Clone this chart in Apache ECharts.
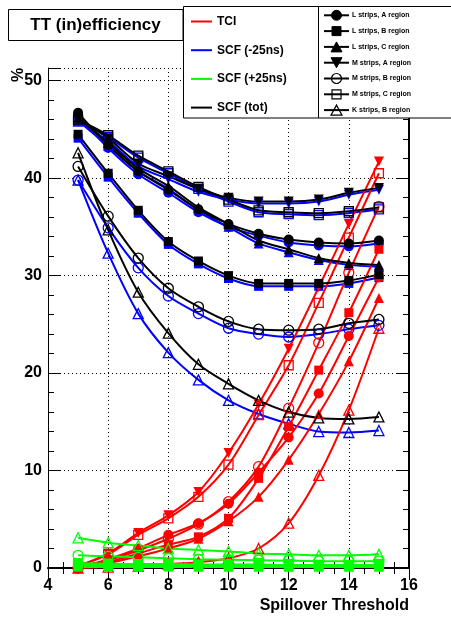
<!DOCTYPE html>
<html><head><meta charset="utf-8">
<script src="https://cdn.jsdelivr.net/npm/echarts@6/dist/echarts.min.js"></script>
<style>html,body{margin:0;padding:0;background:#fff}#c{width:451px;height:618px}</style>
</head><body><div id="c"></div>
<script>
const xValues = [5, 6, 7, 8, 9, 10, 11, 12, 13, 14, 15];
const xTicks = [4, 6, 8, 10, 12, 14, 16];
const yTicks = [0, 10, 20, 30, 40, 50];

// TCI (red)
const tciLA = [0.0, 0.9, 2.0, 3.4, 4.6, 6.6, 9.8, 13.4, 17.9, 23.8, 29.8];
const tciLB = [0.0, 0.6, 1.5, 2.4, 3.2, 5.1, 9.2, 14.5, 20.3, 26.2, 32.7];
const tciLC = [0.0, 0.5, 1.2, 2.0, 3.0, 4.8, 7.3, 11.1, 15.8, 21.2, 27.7];
const tciMA = [0.2, 1.5, 3.6, 5.4, 7.8, 11.8, 16.8, 22.5, 28.8, 35.3, 41.7];
const tciMB = [0.0, 0.8, 1.8, 3.0, 4.5, 6.8, 10.4, 16.4, 23.1, 30.3, 37.1];
const tciMC = [0.2, 1.4, 3.4, 5.1, 7.3, 10.6, 15.7, 20.8, 27.2, 33.9, 40.5];
const tciKB = [0.0, 0.1, 0.2, 0.4, 0.6, 1.0, 2.0, 4.6, 9.5, 16.2, 24.6];

// SCF (-25ns) (blue)
const scfmLA = [46.4, 43.1, 40.4, 38.5, 36.5, 35.0, 34.1, 33.4, 33.1, 33.0, 33.3];
const scfmLB = [44.1, 40.1, 36.4, 33.2, 31.2, 29.7, 28.9, 28.9, 28.9, 29.2, 29.8];
const scfmLC = [45.9, 43.3, 40.7, 38.9, 36.7, 35.0, 33.3, 32.4, 31.6, 31.1, 30.9];
const scfmMA = [45.8, 43.8, 41.2, 39.9, 38.6, 37.8, 37.4, 37.4, 37.6, 38.3, 38.8];
const scfmMB = [39.8, 34.9, 30.8, 27.9, 26.1, 24.6, 24.0, 23.7, 24.0, 24.5, 24.9];
const scfmMC = [45.8, 44.2, 42.1, 40.5, 38.9, 37.6, 36.5, 36.3, 36.2, 36.4, 36.8];
const scfmKB = [39.8, 32.3, 26.1, 22.1, 19.3, 17.2, 15.8, 14.8, 14.0, 13.9, 14.1];

// SCF (+25ns) (green)
const scfpLA = [0.3, 0.3, 0.3, 0.2, 0.2, 0.2, 0.2, 0.2, 0.2, 0.2, 0.2];
const scfpLB = [0.1, 0.1, 0.1, 0.1, 0.1, 0.1, 0.1, 0.1, 0.1, 0.1, 0.1];
const scfpLC = [0.2, 0.2, 0.2, 0.2, 0.15, 0.15, 0.15, 0.15, 0.15, 0.15, 0.15];
const scfpMA = [0.4, 0.4, 0.35, 0.35, 0.3, 0.3, 0.3, 0.3, 0.3, 0.3, 0.3];
const scfpMB = [1.3, 1.2, 1.1, 1.0, 0.9, 0.85, 0.8, 0.75, 0.7, 0.7, 0.7];
const scfpMC = [0.5, 0.45, 0.4, 0.4, 0.35, 0.35, 0.35, 0.3, 0.3, 0.3, 0.3];
const scfpKB = [3.1, 2.6, 2.3, 2.0, 1.85, 1.7, 1.5, 1.4, 1.3, 1.3, 1.4];

// SCF (tot) (black)
const scftLA = [46.7, 43.4, 40.7, 38.8, 36.8, 35.3, 34.3, 33.7, 33.4, 33.3, 33.6];
const scftLB = [44.5, 40.5, 36.7, 33.5, 31.5, 30.0, 29.2, 29.2, 29.2, 29.5, 30.1];
const scftLC = [46.2, 43.6, 41.0, 39.2, 37.0, 35.3, 33.6, 32.7, 31.8, 31.3, 31.1];
const scftMA = [46.1, 44.1, 41.5, 40.2, 38.9, 38.0, 37.6, 37.6, 37.8, 38.5, 39.0];
const scftMB = [41.2, 36.1, 31.8, 28.7, 26.8, 25.3, 24.5, 24.4, 24.5, 25.1, 25.5];
const scftMC = [46.0, 44.4, 42.3, 40.7, 39.1, 37.8, 36.7, 36.5, 36.4, 36.6, 37.0];
const scftKB = [42.6, 34.7, 28.3, 24.1, 20.9, 18.9, 17.2, 16.0, 15.4, 15.3, 15.5];

const groupNames = ['TCI', 'SCF (-25ns)', 'SCF (+25ns)', 'SCF (tot)'];
const groupColors = ['#ff0000', '#0000ff', '#00ff00', '#000000'];
const markerNames = ['L strips, A region', 'L strips, B region', 'L strips, C region',
  'M strips, A region', 'M strips, B region', 'M strips, C region', 'K strips, B region'];

const markers = [
  { symbol: 'circle', rotate: 0, filled: true },
  { symbol: 'rect', rotate: 0, filled: true },
  { symbol: 'triangle', rotate: 0, filled: true },
  { symbol: 'triangle', rotate: 180, filled: true },
  { symbol: 'circle', rotate: 0, filled: false },
  { symbol: 'rect', rotate: 0, filled: false },
  { symbol: 'triangle', rotate: 0, filled: false }
];

const groupData = [
  [tciLA, tciLB, tciLC, tciMA, tciMB, tciMC, tciKB],
  [scfmLA, scfmLB, scfmLC, scfmMA, scfmMB, scfmMC, scfmKB],
  [scfpLA, scfpLB, scfpLC, scfpMA, scfpMB, scfpMC, scfpKB],
  [scftLA, scftLB, scftLC, scftMA, scftMB, scftMC, scftKB]
];

const FONT = "'Liberation Sans', Arial, Helvetica, sans-serif";
const drawOrder = [1, 0, 3, 2];
const series = [];
drawOrder.forEach(g => {
  groupData[g].forEach((arr, m) => {
    const mk = markers[m];
    const col = groupColors[g];
    series.push({
      type: 'line',
      name: groupNames[g] + ' ' + markerNames[m],
      data: xValues.map((x, i) => [x, arr[i]]),
      smooth: 0.3,
      symbol: mk.symbol,
      symbolRotate: mk.rotate,
      symbolSize: mk.symbol === 'rect' ? 9 : 10,
      showAllSymbol: true,
      lineStyle: { color: col, width: 2 },
      itemStyle: mk.filled
        ? { color: col, borderColor: col, borderWidth: 0 }
        : { color: 'rgba(255,255,255,0)', borderColor: col, borderWidth: 1.3 },
      emphasis: { disabled: true },
      xAxisIndex: 0, yAxisIndex: 0,
      z: 3
    });
  });
});

// Legend graphics
const graphic = [];
graphic.push({ type: 'rect', z: 100, shape: { x: 8.5, y: 9.5, width: 174.5, height: 31 },
  style: { fill: '#fff', stroke: '#000', lineWidth: 1 } });
graphic.push({ type: 'text', z: 101, x: 95.5, y: 25,
  style: { text: 'TT (in)efficiency', font: 'bold 17px ' + FONT, fill: '#000', textAlign: 'center', textVerticalAlign: 'middle' } });

graphic.push({ type: 'rect', z: 100, shape: { x: 183.5, y: 6.5, width: 135, height: 111.5 },
  style: { fill: '#fff', stroke: '#000', lineWidth: 1 } });
graphic.push({ type: 'rect', z: 100, shape: { x: 318.5, y: 6.5, width: 140, height: 111.5 },
  style: { fill: '#fff', stroke: '#000', lineWidth: 1 } });

groupNames.forEach((nm, i) => {
  const y = 21.5 + i * 28.7;
  graphic.push({ type: 'line', z: 101, shape: { x1: 191, y1: y, x2: 212, y2: y },
    style: { stroke: groupColors[i], lineWidth: 2 } });
  graphic.push({ type: 'text', z: 101, x: 217, y: y,
    style: { text: nm, font: 'bold 12px ' + FONT, fill: '#000', textVerticalAlign: 'middle' } });
});

markerNames.forEach((nm, i) => {
  const y = 15.3 + i * 15.8;
  const cx = 336.5;
  graphic.push({ type: 'line', z: 101, shape: { x1: 324, y1: y, x2: 349, y2: y },
    style: { stroke: '#000', lineWidth: 2 } });
  const mk = markers[i];
  const st = mk.filled ? { fill: '#000', stroke: '#000', lineWidth: 1 } : { fill: 'none', stroke: '#000', lineWidth: 1.2 };
  if (mk.symbol === 'circle') {
    graphic.push({ type: 'circle', z: 102, shape: { cx: cx, cy: y, r: 5 }, style: st });
  } else if (mk.symbol === 'rect') {
    graphic.push({ type: 'rect', z: 102, shape: { x: cx - 4.5, y: y - 4.5, width: 9, height: 9 }, style: st });
  } else if (mk.rotate === 180) {
    graphic.push({ type: 'polygon', z: 102, shape: { points: [[cx - 5.5, y - 5], [cx + 5.5, y - 5], [cx, y + 5]] }, style: st });
  } else {
    graphic.push({ type: 'polygon', z: 102, shape: { points: [[cx - 5.5, y + 5], [cx + 5.5, y + 5], [cx, y - 5]] }, style: st });
  }
  graphic.push({ type: 'text', z: 101, x: 352, y: y,
    style: { text: nm, font: 'bold 7px ' + FONT, fill: '#000', textVerticalAlign: 'middle' } });
});

graphic.push({ type: 'text', z: 101, x: 19, y: 75, rotation: Math.PI / 2,
  style: { text: '%', font: 'bold 16px ' + FONT, fill: '#000', textAlign: 'center', textVerticalAlign: 'middle' } });

const chart = echarts.init(document.getElementById('c'), null, { renderer: 'canvas' });
const tickStyle = { color: '#000', width: 1 };
chart.setOption({
  animation: false,
  backgroundColor: '#fff',
  grid: { left: 48, right: 42, top: 68, bottom: 50, containLabel: false },
  xAxis: [{
    type: 'value', min: xTicks[0], max: xTicks[xTicks.length - 1], interval: 2, position: 'bottom',
    name: 'Spillover Threshold', nameLocation: 'end', nameGap: 0,
    nameTextStyle: { fontFamily: FONT, fontWeight: 'bold', fontSize: 16, color: '#000', align: 'right', verticalAlign: 'top', padding: [30, 0, 0, 0] },
    axisLine: { show: true, lineStyle: { color: '#000', width: 2 } },
    axisTick: { show: true, inside: true, length: 12, lineStyle: tickStyle },
    minorTick: { show: true, splitNumber: 4, length: 6, lineStyle: tickStyle },
    splitLine: { show: true, lineStyle: { color: '#000', type: [1, 3], width: 1 } },
    axisLabel: { fontFamily: FONT, fontWeight: 'bold', fontSize: 16, color: '#000', margin: 10 }
  }, {
    type: 'value', min: xTicks[0], max: xTicks[xTicks.length - 1], interval: 2, position: 'top',
    axisLine: { show: true, lineStyle: { color: '#000', width: 1 } },
    axisTick: { show: true, inside: true, length: 12, lineStyle: tickStyle },
    minorTick: { show: true, splitNumber: 4, length: 6, lineStyle: tickStyle },
    splitLine: { show: false }, axisLabel: { show: false }
  }],
  yAxis: [{
    type: 'value', min: yTicks[0], max: 51.3, interval: 10, position: 'left',
    axisLine: { show: true, lineStyle: { color: '#000', width: 1 } },
    axisTick: { show: true, inside: true, length: 12, lineStyle: tickStyle },
    minorTick: { show: true, splitNumber: 5, length: 6, lineStyle: tickStyle },
    splitLine: { show: true, lineStyle: { color: '#000', type: [1, 3], width: 1 } },
    axisLabel: { fontFamily: FONT, fontWeight: 'bold', fontSize: 16, color: '#000', margin: 6,
      formatter: v => (yTicks.indexOf(Math.round(v * 1000) / 1000) >= 0 ? String(v) : '') }
  }, {
    type: 'value', min: yTicks[0], max: 51.3, interval: 10, position: 'right',
    axisLine: { show: true, lineStyle: { color: '#000', width: 2 } },
    axisTick: { show: true, inside: true, length: 12, lineStyle: tickStyle },
    minorTick: { show: true, splitNumber: 5, length: 6, lineStyle: tickStyle },
    splitLine: { show: false }, axisLabel: { show: false }
  }],
  series: series,
  graphic: graphic
});
</script></body></html>
